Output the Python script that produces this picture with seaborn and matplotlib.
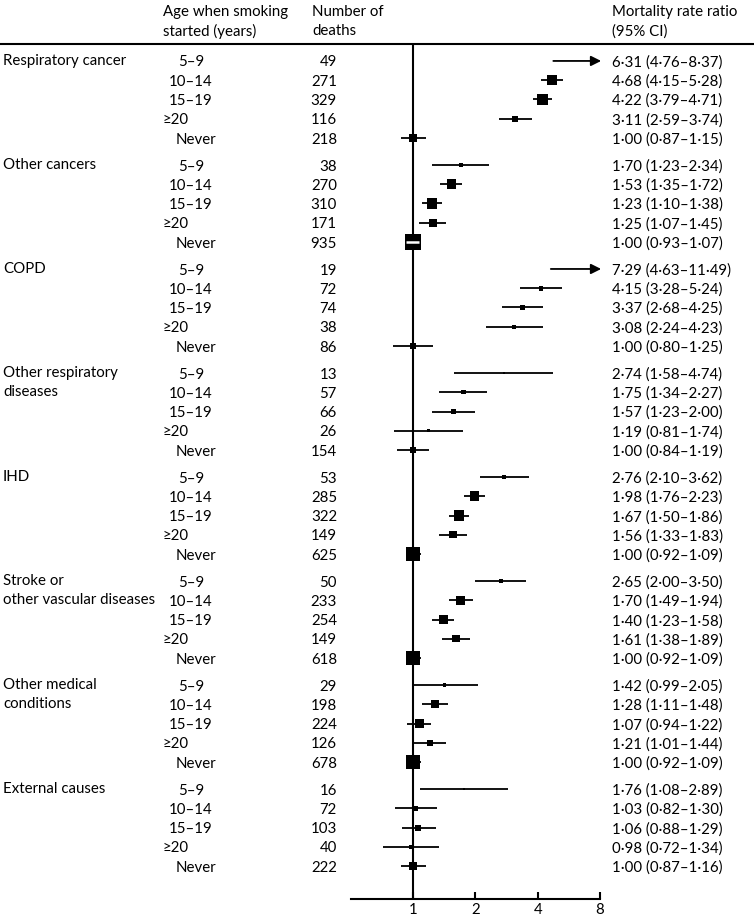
import numpy as np
import pandas as pd
import matplotlib
matplotlib.use("Agg")
import matplotlib.pyplot as plt
import seaborn as sns
from matplotlib.lines import Line2D
from matplotlib.transforms import blended_transform_factory

# Mortality rate ratios by age when smoking started, per cause of death
groups = ["Respiratory cancer", "Other cancers", "COPD", "Other respiratory\ndiseases",
          "IHD", "Stroke or\nother vascular diseases", "Other medical\nconditions",
          "External causes"]
ages = ["5–9", "10–14", "15–19", "≥20", "Never"]

deaths = [[49, 271, 329, 116, 218],
          [38, 270, 310, 171, 935],
          [19, 72, 74, 38, 86],
          [13, 57, 66, 26, 154],
          [53, 285, 322, 149, 625],
          [50, 233, 254, 149, 618],
          [29, 198, 224, 126, 678],
          [16, 72, 103, 40, 222]]

rr = [[6.31, 4.68, 4.22, 3.11, 1.00],
      [1.70, 1.53, 1.23, 1.25, 1.00],
      [7.29, 4.15, 3.37, 3.08, 1.00],
      [2.74, 1.75, 1.57, 1.19, 1.00],
      [2.76, 1.98, 1.67, 1.56, 1.00],
      [2.65, 1.70, 1.40, 1.61, 1.00],
      [1.42, 1.28, 1.07, 1.21, 1.00],
      [1.76, 1.03, 1.06, 0.98, 1.00]]

ci_lo = [[4.76, 4.15, 3.79, 2.59, 0.87],
         [1.23, 1.35, 1.10, 1.07, 0.93],
         [4.63, 3.28, 2.68, 2.24, 0.80],
         [1.58, 1.34, 1.23, 0.81, 0.84],
         [2.10, 1.76, 1.50, 1.33, 0.92],
         [2.00, 1.49, 1.23, 1.38, 0.92],
         [0.99, 1.11, 0.94, 1.01, 0.92],
         [1.08, 0.82, 0.88, 0.72, 0.87]]

ci_hi = [[8.37, 5.28, 4.71, 3.74, 1.15],
         [2.34, 1.72, 1.38, 1.45, 1.07],
         [11.49, 5.24, 4.25, 4.23, 1.25],
         [4.74, 2.27, 2.00, 1.74, 1.19],
         [3.62, 2.23, 1.86, 1.83, 1.09],
         [3.50, 1.94, 1.58, 1.89, 1.09],
         [2.05, 1.48, 1.22, 1.44, 1.09],
         [2.89, 1.30, 1.29, 1.34, 1.16]]

xticks = [1, 2, 4, 8]

rows = []
for g, name in enumerate(groups):
    for r, age in enumerate(ages):
        rows.append(dict(group=name, age=age, y=g * 5.4 + r, is_first=(r == 0),
                         deaths=deaths[g][r], rr=rr[g][r],
                         lo=ci_lo[g][r], hi=ci_hi[g][r]))
df = pd.DataFrame(rows)
# box area proportional to inverse variance of log RR
df["se"] = np.log(df["hi"] / df["lo"]) / 3.92
df["weight"] = 1 / df["se"] ** 2

W, H = 754, 923
fig = plt.figure(figsize=(W / 100, H / 100), dpi=100)
plt.rcParams["font.family"] = ["Lato", "DejaVu Sans"]
FS = 10.8

x0, x1, ytop, ybot = 350.7, 600, 44, 899
ax = fig.add_axes([x0 / W, 1 - ybot / H, (x1 - x0) / W, (ybot - ytop) / H])
ax.set_xscale("log", base=2)
ax.set_xlim(0.5, 8)
ax.set_ylim(43.51, -0.88)

ax.axvline(1, color="black", lw=1.5, zorder=1)

px_per_oct = (x1 - x0) / 4
for _, d in df.iterrows():
    if d["hi"] > 8:
        ax.annotate("", xy=(8.1, d["y"]), xytext=(d["lo"], d["y"]),
                    arrowprops=dict(arrowstyle="-|>,head_length=0.6,head_width=0.3",
                                    color="black", lw=1.3, shrinkA=0, shrinkB=0,
                                    mutation_scale=10),
                    annotation_clip=False, zorder=4)
    else:
        ax.plot([d["lo"], d["hi"]], [d["y"], d["y"]], color="black", lw=1.3,
                zorder=2, solid_capstyle="butt")

wmax = df["weight"].max()
sns.scatterplot(data=df[df["hi"] <= 8], x="rr", y="y", size="weight", marker="s",
                sizes=(0, 0.1785 * wmax), size_norm=(0, wmax), color="black",
                linewidth=0, legend=False, ax=ax, zorder=3)

# CI fully inside the box: draw it white
for _, d in df.iterrows():
    side_px = np.sqrt(0.1785 * d["weight"]) / 0.72
    ci_px = (np.log2(d["hi"]) - np.log2(d["lo"])) * px_per_oct
    if ci_px < side_px - 1:
        ax.plot([d["lo"], d["hi"]], [d["y"], d["y"]], color="white", lw=1.8,
                zorder=3.5, solid_capstyle="butt")

for s in ["top", "left", "right"]:
    ax.spines[s].set_visible(False)
ax.spines["bottom"].set_linewidth(1.5)
ax.set_xticks(xticks)
ax.set_xticklabels([str(t) for t in xticks])
ax.xaxis.set_minor_locator(matplotlib.ticker.NullLocator())
ax.tick_params(axis="x", direction="in", length=5, width=1.5, labelsize=FS, pad=3)
ax.set_yticks([])
ax.set_xlabel("")
ax.set_ylabel("")
ax.patch.set_visible(False)

# top rule
fig.add_artist(Line2D([0, 1], [1 - ytop / H] * 2, color="black", lw=1.5,
                      transform=fig.transFigure))

# headers
hy = 1 - 5 / H
fig.text(163 / W, hy, "Age when smoking\nstarted (years)", va="top", ha="left",
         fontsize=FS, linespacing=1.45)
fig.text(312 / W, hy, "Number of\ndeaths", va="top", ha="left",
         fontsize=FS, linespacing=1.45)
fig.text(612 / W, hy, "Mortality rate ratio\n(95% CI)", va="top", ha="left",
         fontsize=FS, linespacing=1.45)

tr = blended_transform_factory(fig.transFigure, ax.transData)
age_x = {"5–9": (191, "center"), "10–14": (191, "center"), "15–19": (191, "center"),
         "≥20": (163, "left"), "Never": (196, "center")}


def fmt(v):
    return f"{v:.2f}".replace(".", "·")


dy = 0.08  # nudge text down a touch to sit on the row
for _, d in df.iterrows():
    ty = d["y"] + dy
    if d["is_first"]:
        ax.text(3 / W, ty - 0.44, d["group"], transform=tr, ha="left", va="top",
                fontsize=FS, linespacing=1.45)
    ax_x, ha = age_x[d["age"]]
    ax.text(ax_x / W, ty, d["age"], transform=tr, ha=ha, va="center", fontsize=FS)
    ax.text(337 / W, ty, str(d["deaths"]), transform=tr, ha="right", va="center",
            fontsize=FS)
    ax.text(612 / W, ty, f"{fmt(d['rr'])} ({fmt(d['lo'])}–{fmt(d['hi'])})",
            transform=tr, ha="left", va="center", fontsize=FS)

fig.savefig("out.png", dpi=100)
